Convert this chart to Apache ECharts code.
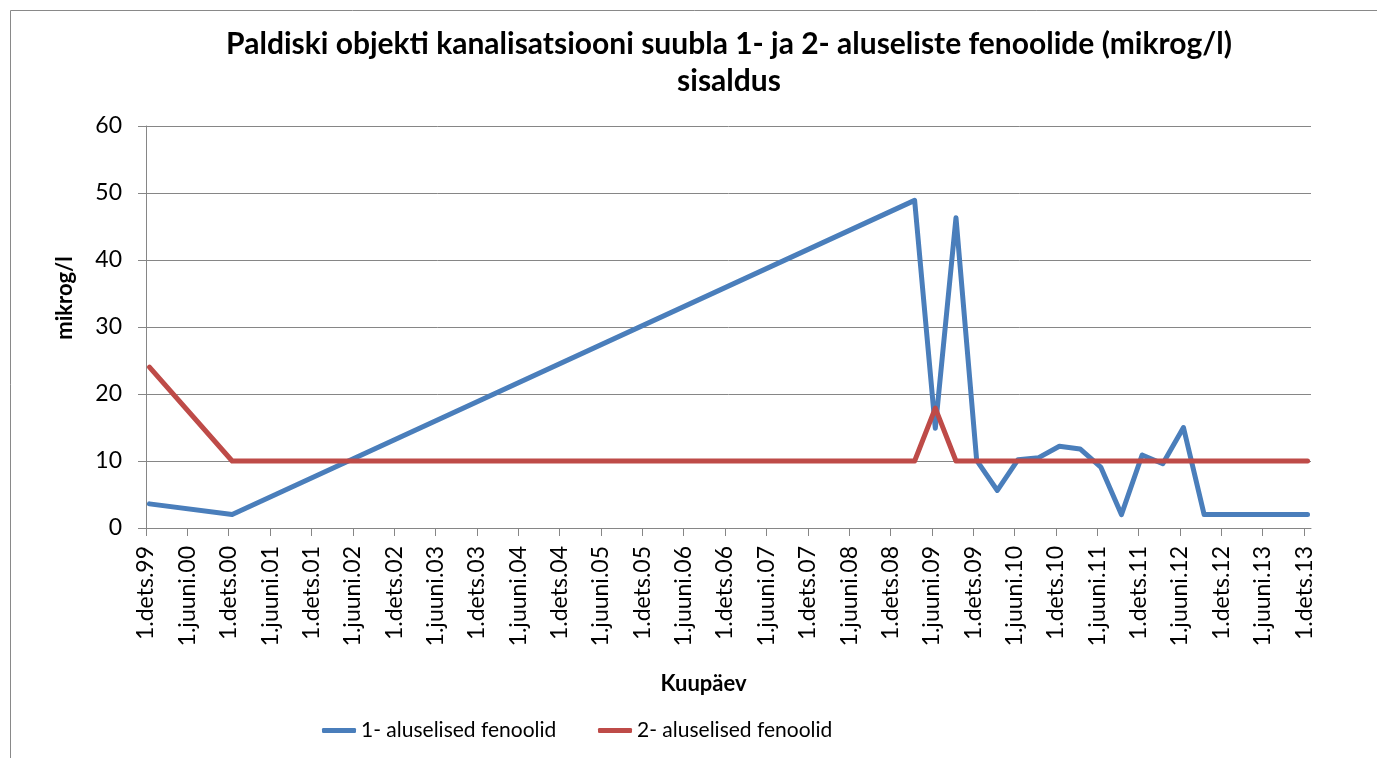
<!DOCTYPE html>
<html>
<head>
<meta charset="utf-8">
<title>Paldiski fenoolid</title>
<script src="https://cdn.jsdelivr.net/npm/echarts@6/dist/echarts.min.js"></script>
<style>
html, body { margin: 0; padding: 0; background: #fff; }
#fenoolChart { width: 1377px; height: 758px; }
</style>
</head>
<body>
<div id="fenoolChart"></div>
<script>
// kuupäevad (aasta-kuu) ja mõõdetud väärtused, mikrog/l
var blueDates = ['1999-12', '2000-12', '2009-03', '2009-06', '2009-09', '2009-12', '2010-03', '2010-06', '2010-09', '2010-12',
	'2011-03', '2011-06', '2011-09', '2011-12', '2012-03', '2012-06', '2012-09', '2012-12', '2013-03', '2013-06', '2013-09', '2013-12'];
var blueValues = [3.6, 2.0, 48.9, 14.9, 46.3, 10.1, 5.6, 10.2, 10.5, 12.2,
	11.8, 9.1, 2.0, 10.9, 9.6, 15.0, 2.0, 2.0, 2.0, 2.0, 2.0, 2.0];
var redDates = ['1999-12', '2000-12', '2009-03', '2009-06', '2009-09', '2009-12', '2010-03', '2010-06', '2010-09', '2010-12',
	'2011-03', '2011-06', '2011-09', '2011-12', '2012-03', '2012-06', '2012-09', '2012-12', '2013-03', '2013-06', '2013-09', '2013-12'];
var redValues = [24, 10, 10, 17.9, 10, 10, 10, 10, 10, 10,
	10, 10, 10, 10, 10, 10, 10, 10, 10, 10, 10, 10];
var seriesNames = ['1- aluselised fenoolid', '2- aluselised fenoolid'];
var xTickLabels = ['1.dets.99', '1.juuni.00', '1.dets.00', '1.juuni.01', '1.dets.01', '1.juuni.02', '1.dets.02', '1.juuni.03',
	'1.dets.03', '1.juuni.04', '1.dets.04', '1.juuni.05', '1.dets.05', '1.juuni.06', '1.dets.06', '1.juuni.07', '1.dets.07',
	'1.juuni.08', '1.dets.08', '1.juuni.09', '1.dets.09', '1.juuni.10', '1.dets.10', '1.juuni.11', '1.dets.11', '1.juuni.12',
	'1.dets.12', '1.juuni.13', '1.dets.13'];
var yTicks = [0, 10, 20, 30, 40, 50, 60];

fenoolChart('fenoolChart');

// kuu number alates dets 1999, punkt kuu keskel (nagu Exceli kuupäevateljel)
function monthSlot(d) {
	var p = d.split('-');
	return (parseInt(p[0], 10) - 1999) * 12 + (parseInt(p[1], 10) - 12) + 0.5;
}
function pairs(dates, values) {
	var out = [];
	for (var i = 0; i < dates.length; i++) {
		out.push([monthSlot(dates[i]), values[i]]);
	}
	return out;
}

function fenoolChart(id) {
	var chart = echarts.init(document.getElementById(id));
	var tickValues = [];
	for (var i = 0; i < xTickLabels.length; i++) tickValues.push(i * 6);
	var font = 'Lato, "Liberation Sans", sans-serif';
	var legendBase = {
		top: 720,
		padding: 0,
		itemWidth: 34,
		itemHeight: 5,
		icon: 'roundRect',
		textStyle: { fontFamily: font, fontSize: 21, color: '#000' }
	};
	var option = {
		animation: false,
		textStyle: { fontFamily: font, color: '#000' },
		title: {
			text: 'Paldiski objekti kanalisatsiooni suubla 1- ja 2- aluseliste fenoolide (mikrog/l)\nsisaldus',
			left: 724,
			textAlign: 'center',
			top: 21,
			textStyle: {
				fontFamily: font,
				fontSize: 30,
				fontWeight: 'bold',
				color: '#000',
				lineHeight: 37
			}
		},
		graphic: [{
			type: 'rect',
			left: 8,
			top: 8,
			shape: { width: 1500, height: 900 },
			style: { fill: 'none', stroke: '#898989', lineWidth: 1 },
			silent: true
		}],
		legend: [
			echarts.util.merge({ left: 322, data: [seriesNames[0]] }, legendBase),
			echarts.util.merge({ left: 598, data: [seriesNames[1]] }, legendBase)
		],
		grid: {
			left: 146,
			right: 66,
			top: 126,
			bottom: 230,
			containLabel: false
		},
		xAxis: {
			type: 'value',
			min: 0,
			max: 169,
			name: 'Kuupäev',
			nameLocation: 'middle',
			nameGap: 145,
			nameTextStyle: { fontFamily: font, fontSize: 22, fontWeight: 'bold', color: '#000', padding: [0, 50, 0, 0] },
			axisLine: { lineStyle: { color: '#868686', width: 1 } },
			axisTick: { show: true, length: 8, customValues: tickValues, lineStyle: { color: '#868686' } },
			axisLabel: {
				customValues: tickValues,
				rotate: 90,
				margin: 18,
				fontSize: 23,
				color: '#000',
				fontFamily: font,
				formatter: function (v) {
					return xTickLabels[Math.round(v / 6)] || '';
				}
			},
			splitLine: { show: false }
		},
		yAxis: {
			type: 'value',
			min: 0,
			max: 60,
			interval: 10,
			name: 'mikrog/l',
			nameLocation: 'middle',
			nameGap: 70,
			nameTextStyle: { fontFamily: font, fontSize: 22, fontWeight: 'bold', color: '#000', padding: [0, 0, 0, 58] },
			axisLine: { show: true, lineStyle: { color: '#868686', width: 1 } },
			axisTick: { show: true, length: 8, lineStyle: { color: '#868686' } },
			axisLabel: {
				margin: 24,
				fontSize: 23,
				color: '#000',
				fontFamily: font,
				formatter: function (v) {
					return yTicks.indexOf(v) >= 0 ? String(v) : '';
				}
			},
			splitLine: { show: true, lineStyle: { color: '#868686', width: 1 } }
		},
		series: [{
			name: seriesNames[0],
			type: 'line',
			symbol: 'none',
			color: '#4a7ebb',
			lineStyle: { width: 5, color: '#4a7ebb', cap: 'round', join: 'round' },
			data: pairs(blueDates, blueValues)
		}, {
			name: seriesNames[1],
			type: 'line',
			symbol: 'none',
			color: '#be4b48',
			lineStyle: { width: 5, color: '#be4b48', cap: 'round', join: 'round' },
			data: pairs(redDates, redValues)
		}]
	};
	chart.setOption(option);
}
</script>
</body>
</html>
